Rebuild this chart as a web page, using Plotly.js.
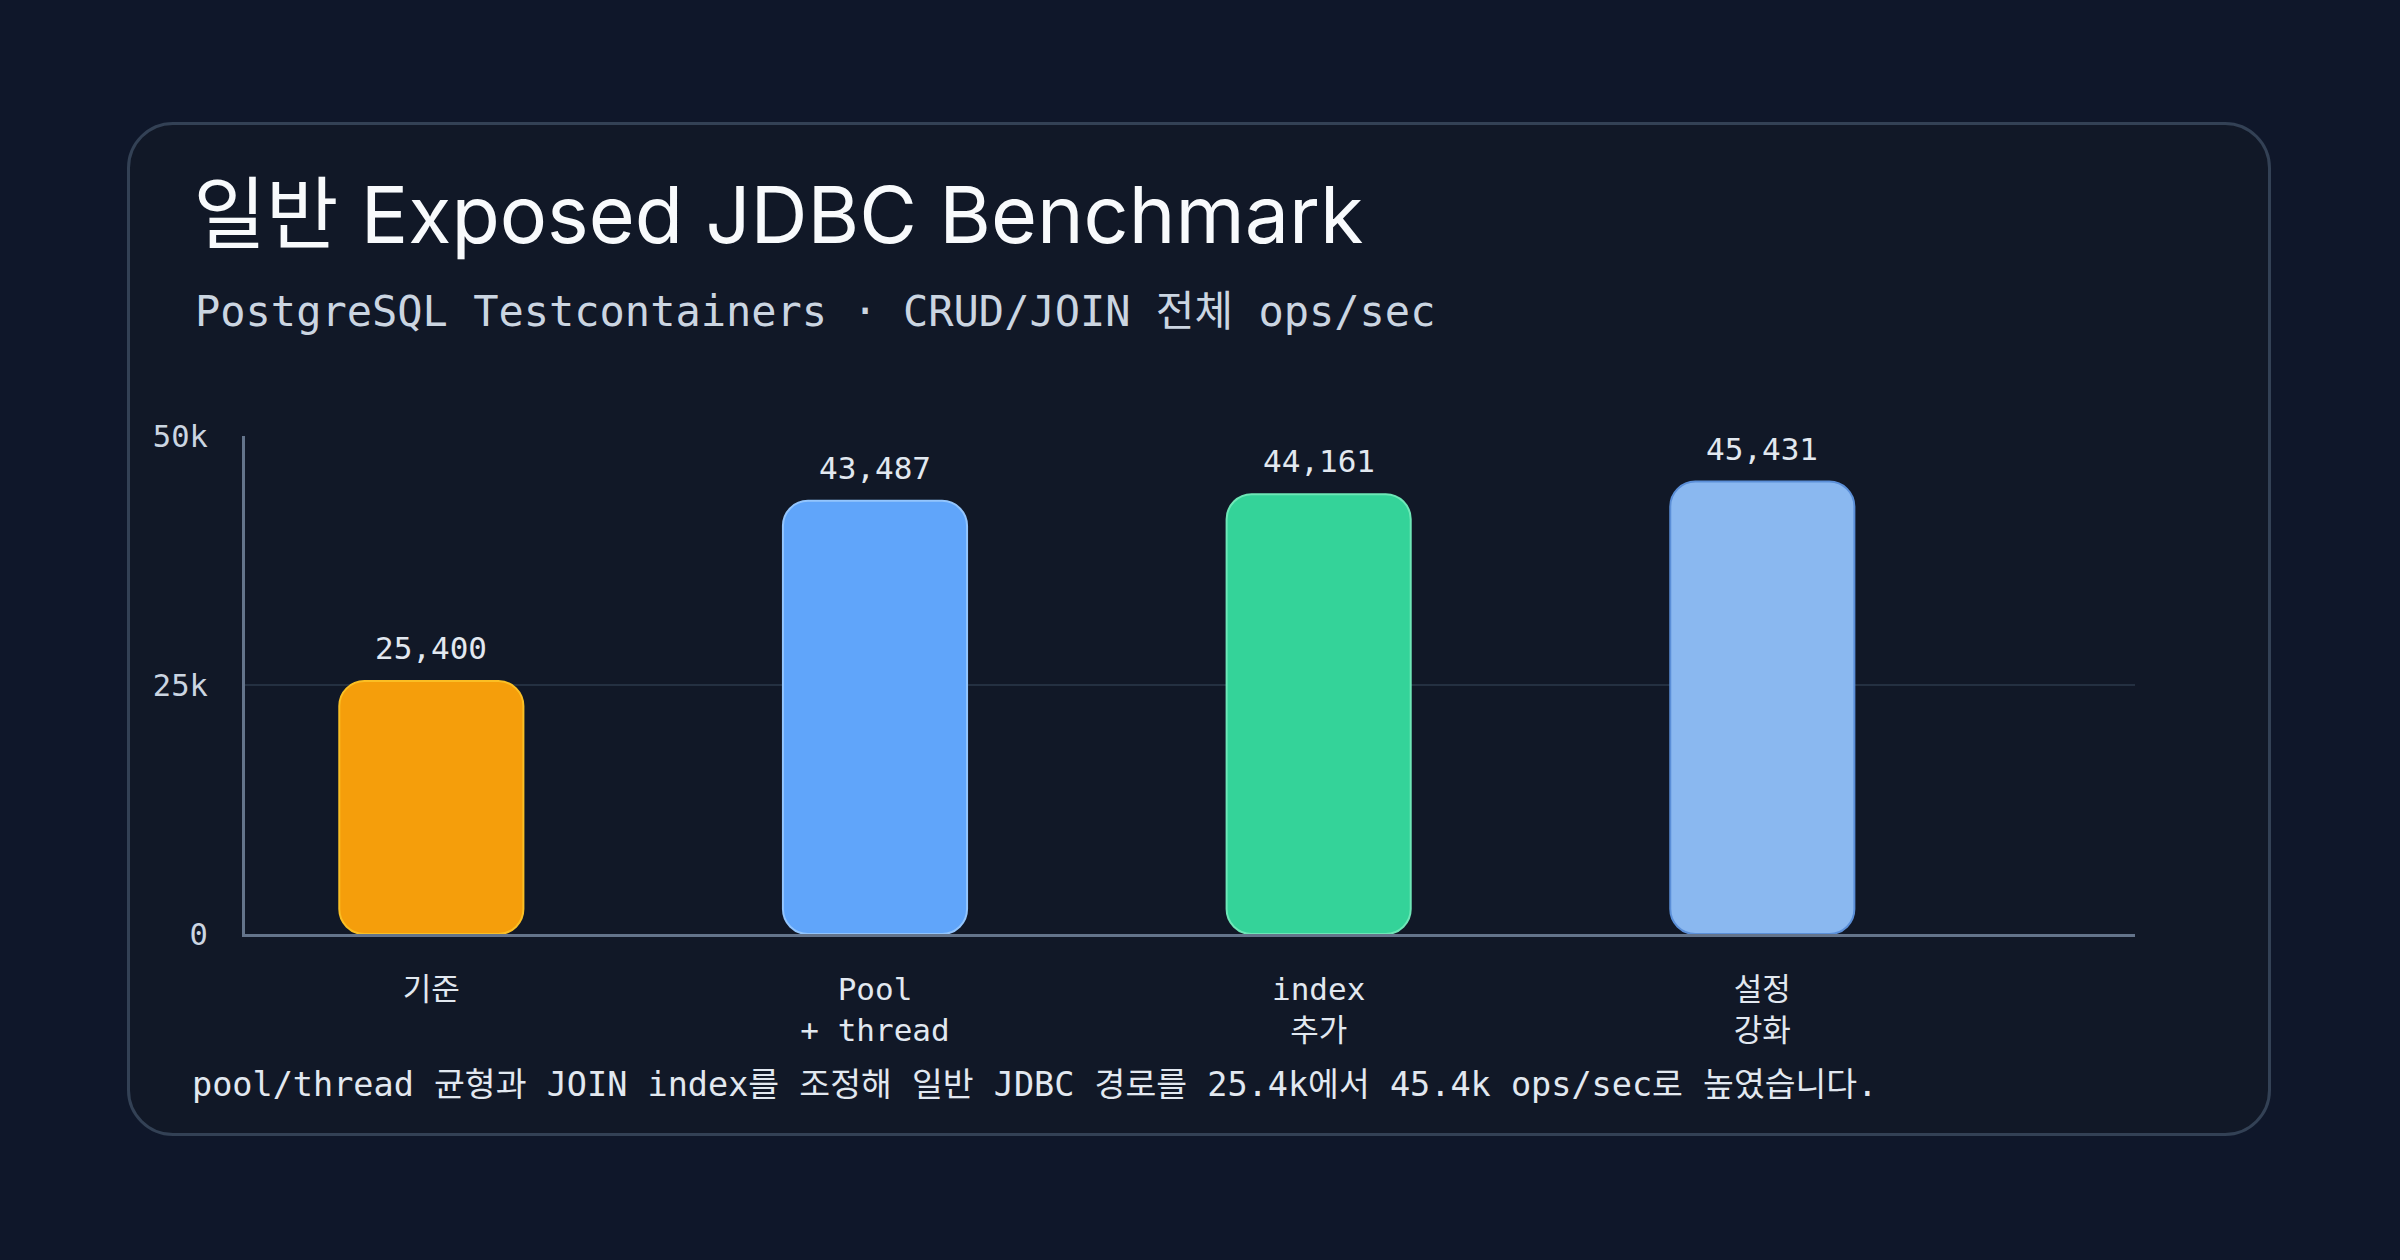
<!DOCTYPE html>
<html>
<head>
<meta charset="utf-8">
<script src="https://cdn.plot.ly/plotly-3.0.1.min.js"></script>
<style>
  html, body { margin: 0; padding: 0; background: #0f172a; }
  #wrap { position: relative; width: 2400px; height: 1260px; overflow: hidden; }
  #card {
    position: absolute; left: 127px; top: 122px; width: 2138px; height: 1008px;
    background: #111827; border: 3px solid #334155; border-radius: 46px;
  }
  #chart { position: absolute; left: 0; top: 0; width: 2400px; height: 1260px; }
</style>
</head>
<body>
<div id="wrap">
  <div id="card"></div>
  <div id="chart"></div>
</div>
<script>
var categories = ["기준", "Pool<br>+ thread", "index<br>추가", "설정<br>강화"];
var opsPerSec = [25400, 43487, 44161, 45431];
var barColors = ["#f59e0b", "#60a5fa", "#34d399", "#8ab8f0"];
var barLines = ["#fbbf24", "#93c5fd", "#6ee7b7", "#5b8fd8"];
var yTickVals = [0, 25000, 50000];
var yTickText = ["0", "25k", "50k"];

var mono = "'DejaVu Sans Mono', 'Noto Sans CJK KR', monospace";
var sans = "Inter, 'Noto Sans CJK KR', sans-serif";

// an explicit base makes plotly round the bottom corners too
var bars = {
  type: "bar", x: categories, y: opsPerSec,
  base: opsPerSec.map(function () { return 0; }),
  width: 0.415, hoverinfo: "skip",
  marker: { color: barColors, cornerradius: 25, line: { color: barLines, width: 2 } }
};

var valueLabels = categories.map(function (c, i) {
  return {
    x: c, y: opsPerSec[i], xref: "x", yref: "y",
    text: opsPerSec[i].toLocaleString("en-US"),
    showarrow: false, yanchor: "bottom", yshift: 13,
    font: { family: mono, size: 31, color: "#e2e8f0" }
  };
});

var notes = [
  {
    text: "PostgreSQL Testcontainers · CRUD/JOIN 전체 ops/sec",
    xref: "paper", yref: "paper", x: -0.0275, y: 1.251,
    xanchor: "left", yanchor: "middle", showarrow: false,
    font: { family: mono, size: 42, color: "#cbd5e1" }
  },
  {
    text: "pool/thread 균형과 JOIN index를 조정해 일반 JDBC 경로를 25.4k에서 45.4k ops/sec로 높였습니다.",
    xref: "paper", yref: "paper", x: -0.029, y: -0.303,
    xanchor: "left", yanchor: "middle", showarrow: false,
    font: { family: mono, size: 33.5, color: "#e2e8f0" }
  }
];

var layout = {
  width: 2400, height: 1260,
  margin: { l: 245, r: 265, t: 436, b: 326 },
  paper_bgcolor: "rgba(0,0,0,0)",
  plot_bgcolor: "rgba(0,0,0,0)",
  showlegend: false,
  title: {
    text: "일반 Exposed JDBC Benchmark",
    xref: "container", yref: "container", x: 0.0805, y: 0.829,
    xanchor: "left", yanchor: "middle",
    font: { family: sans, size: 79, color: "#f8fafc" }
  },
  xaxis: {
    type: "category", range: [-0.42, 3.84],
    showline: true, linecolor: "#64748b", linewidth: 3,
    showgrid: false, zeroline: false, ticks: "",
    ticklabelstandoff: 26,
    tickfont: { family: mono, size: 31, color: "#e2e8f0" },
    fixedrange: true
  },
  yaxis: {
    range: [0, 50000],
    tickvals: yTickVals, ticktext: yTickText,
    showline: true, linecolor: "#64748b", linewidth: 3,
    showgrid: true, gridcolor: "#243041", gridwidth: 2,
    zeroline: false, ticks: "",
    ticklabelstandoff: 28,
    tickfont: { family: mono, size: 30.5, color: "#cbd5e1" },
    fixedrange: true
  },
  annotations: valueLabels.concat(notes)
};

Plotly.newPlot("chart", [bars], layout, { displayModeBar: false, staticPlot: true });
</script>
</body>
</html>
